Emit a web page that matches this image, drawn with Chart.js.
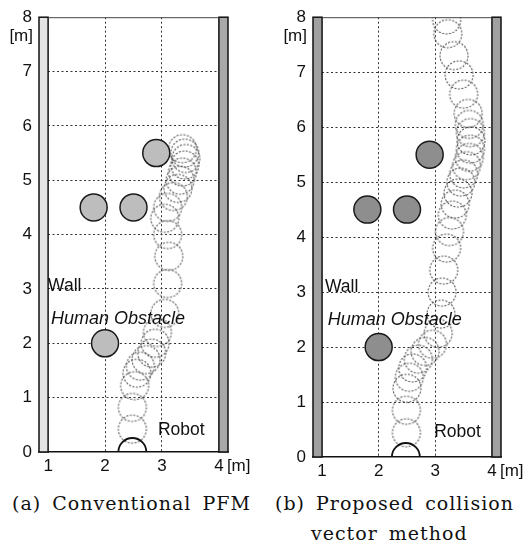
<!DOCTYPE html>
<html>
<head>
<meta charset="utf-8">
<script src="https://cdn.jsdelivr.net/npm/chart.js@4/dist/chart.umd.min.js"></script>
<style>
    body { margin: 0; background: #fff; width: 529px; height: 547px; overflow: hidden; position: relative; }
    canvas { position: absolute; top: 0; }
    #chartA { left: 0; }
    #chartB { left: 262px; }
    .caption { position: absolute; font-family: "DejaVu Serif", "Liberation Serif", serif; font-size: 19px; line-height: 26px; letter-spacing: 1px; word-spacing: 4px; color: #111; white-space: nowrap; }
</style>
</head>
<body>
<canvas id="chartA" width="262" height="490"></canvas>
<canvas id="chartB" width="267" height="490"></canvas>
<div class="caption" style="left:12px; top:490px;">(a) Conventional PFM</div>
<div class="caption" style="left:275px; top:490px;">(b) Proposed collision</div>
<div class="caption" style="left:311px; top:520px;">vector method</div>
<script>
// axis ticks [m]
var xTicks = [1, 2, 3, 4];
var yTicks = [0, 1, 2, 3, 4, 5, 6, 7, 8];

// walls [m], left and right
var wallLeft = [0.84, 1.0];
var wallRight = [4.0, 4.16];

// human obstacles
var obstacleX = [1.8, 2.5, 2.9, 2.0];
var obstacleY = [4.5, 4.5, 5.5, 2.0];

// robot start
var startX = [2.48];
var startY = [0];

// (a) conventional PFM, robot positions
var pfmX = [2.48, 2.48, 2.52, 2.56, 2.62, 2.72, 2.82, 2.88, 2.92, 3.05, 3.1, 3.12, 3.1, 3.05, 3.1, 3.2, 3.28, 3.32, 3.36, 3.4, 3.42, 3.4, 3.36];
var pfmY = [0.42, 0.82, 1.22, 1.45, 1.58, 1.7, 1.82, 2.0, 2.2, 2.55, 3.1, 3.6, 4.0, 4.3, 4.5, 4.7, 4.85, 5.0, 5.15, 5.28, 5.4, 5.5, 5.58];

// (b) proposed collision vector method, robot positions
var cvmX = [2.49, 2.49, 2.5, 2.54, 2.6, 2.7, 2.82, 2.95, 3.05, 3.1, 3.12, 3.15, 3.2, 3.25, 3.3, 3.35, 3.4, 3.45, 3.5, 3.55, 3.6, 3.62, 3.63, 3.62, 3.6, 3.58, 3.5, 3.42, 3.33, 3.22, 3.2];
var cvmY = [0.44, 0.85, 1.25, 1.45, 1.62, 1.78, 1.92, 2.05, 2.25, 2.6, 3.0, 3.4, 3.8, 4.1, 4.4, 4.6, 4.8, 5.0, 5.15, 5.3, 5.45, 5.6, 5.75, 5.9, 6.05, 6.25, 6.6, 6.95, 7.3, 7.7, 7.95];

function toPoints(xs, ys) {
    var pts = [];
    for (var i = 0; i < xs.length; i++) {
        pts.push({ x: xs[i], y: ys[i] });
    }
    return pts;
}

// dotted robot circle used as point style
function robotImage() {
    var c = document.createElement('canvas');
    c.width = 32;
    c.height = 32;
    var g = c.getContext('2d');
    g.setLineDash([2, 1.5]);
    g.strokeStyle = '#555';
    g.lineWidth = 1.1;
    g.beginPath();
    g.arc(16, 16, 14, 0, Math.PI * 2);
    g.stroke();
    return c;
}

var tickFont = { family: '"Liberation Sans", Arial, sans-serif', size: 17 };

function makeChart(id, pathX, pathY, cfg) {
    var ctx = document.getElementById(id).getContext('2d');

    var decor = {
        id: 'decor',
        beforeDatasetsDraw: function (chart) {
            var c = chart.ctx;
            var xs = chart.scales.x;
            var ys = chart.scales.y;
            var top = ys.getPixelForValue(8);
            var bottom = ys.getPixelForValue(0);
            c.save();
            // walls
            [[wallLeft, cfg.leftWall], [wallRight, cfg.rightWall]].forEach(function (w) {
                var x0 = xs.getPixelForValue(w[0][0]);
                var x1 = xs.getPixelForValue(w[0][1]);
                c.fillStyle = w[1];
                c.fillRect(x0, top, x1 - x0, bottom - top);
                c.strokeStyle = '#111';
                c.lineWidth = 1.5;
                c.strokeRect(x0, top, x1 - x0, bottom - top);
            });
            // top line
            c.lineWidth = 1;
            c.strokeStyle = '#444';
            c.beginPath();
            c.moveTo(xs.getPixelForValue(wallLeft[1]), top + 0.5);
            c.lineTo(xs.getPixelForValue(wallRight[0]), top + 0.5);
            c.stroke();
            c.restore();
        },
        afterDraw: function (chart) {
            var c = chart.ctx;
            var xs = chart.scales.x;
            var ys = chart.scales.y;
            var area = chart.chartArea;
            c.save();
            c.fillStyle = '#111';
            c.textBaseline = 'middle';
            c.font = '17px "Liberation Sans", Arial, sans-serif';
            // units
            c.textAlign = 'right';
            c.fillText('[m]', area.left - 6, ys.getPixelForValue(8) + 19);
            c.textAlign = 'left';
            c.fillText('[m]', xs.getPixelForValue(4) + 8, area.bottom + 14);
            // labels
            c.font = '17.5px "Liberation Sans", Arial, sans-serif';
            c.fillText('Wall', xs.getPixelForValue(cfg.wall[0]), ys.getPixelForValue(cfg.wall[1]));
            c.fillText('Robot', xs.getPixelForValue(cfg.robot[0]), ys.getPixelForValue(cfg.robot[1]));
            c.font = 'italic 18px "Liberation Sans", Arial, sans-serif';
            c.fillText('Human Obstacle', xs.getPixelForValue(cfg.human[0]), ys.getPixelForValue(cfg.human[1]));
            c.restore();
        }
    };

    return new Chart(ctx, {
        type: 'scatter',
        data: {
            datasets: [{
                label: 'Start',
                data: toPoints(startX, startY),
                pointRadius: 14,
                pointBackgroundColor: 'rgba(255,255,255,0)',
                pointBorderColor: '#111',
                pointBorderWidth: 1.8,
                order: 0
            },
            {
                label: 'Human Obstacle',
                data: toPoints(obstacleX, obstacleY),
                pointRadius: 13.5,
                pointBackgroundColor: cfg.obstacle,
                pointBorderColor: '#1a1a1a',
                pointBorderWidth: 1.5,
                order: 1
            },
            {
                label: 'Robot',
                data: toPoints(pathX, pathY),
                pointStyle: robotImage(),
                pointRadius: 14,
                order: 2
            }]
        },
        options: {
            responsive: false,
            animation: false,
            layout: { padding: { top: cfg.top, right: cfg.right, left: 0, bottom: 0 } },
            plugins: {
                legend: { display: false },
                tooltip: { enabled: false }
            },
            scales: {
                x: {
                    type: 'linear',
                    min: wallLeft[0],
                    max: wallRight[1],
                    afterBuildTicks: function (scale) {
                        scale.ticks = xTicks.map(function (v) { return { value: v }; });
                    },
                    afterFit: function (scale) { scale.height = 490 - cfg.bottom; },
                    ticks: { font: tickFont, color: '#111', padding: 4, maxRotation: 0 },
                    grid: {
                        drawTicks: false,
                        color: function (c) {
                            return (c.tick && (c.tick.value === 2 || c.tick.value === 3)) ? '#333' : 'rgba(0,0,0,0)';
                        },
                        lineWidth: 1
                    },
                    border: { display: true, color: '#111', width: 1.5, dash: [2, 2.5] }
                },
                y: {
                    type: 'linear',
                    min: 0,
                    max: 8,
                    afterBuildTicks: function (scale) {
                        scale.ticks = yTicks.map(function (v) { return { value: v }; });
                    },
                    afterFit: function (scale) { scale.width = cfg.left; },
                    ticks: { font: tickFont, color: '#111', padding: 7 },
                    grid: {
                        drawTicks: false,
                        color: function (c) {
                            return (c.tick && c.tick.value > 0 && c.tick.value < 8) ? '#333' : 'rgba(0,0,0,0)';
                        },
                        lineWidth: 1
                    },
                    border: { display: false, dash: [2, 2.5] }
                }
            }
        },
        plugins: [decor]
    });
}

document.addEventListener('DOMContentLoaded', function () {
    makeChart('chartA', pfmX, pfmY, {
        left: 39, right: 34, top: 16, bottom: 452,
        leftWall: '#e4e4e4', rightWall: '#a8a8a8', obstacle: '#bdbdbd',
        wall: [1.0, 3.05], human: [1.05, 2.44], robot: [2.93, 0.4]
    });
    makeChart('chartB', cvmX, cvmY, {
        left: 51, right: 28, top: 17, bottom: 457,
        leftWall: '#a0a0a0', rightWall: '#a0a0a0', obstacle: '#8e8e8e',
        wall: [1.05, 3.09], human: [1.1, 2.49], robot: [2.98, 0.45]
    });
});
</script>
</body>
</html>
